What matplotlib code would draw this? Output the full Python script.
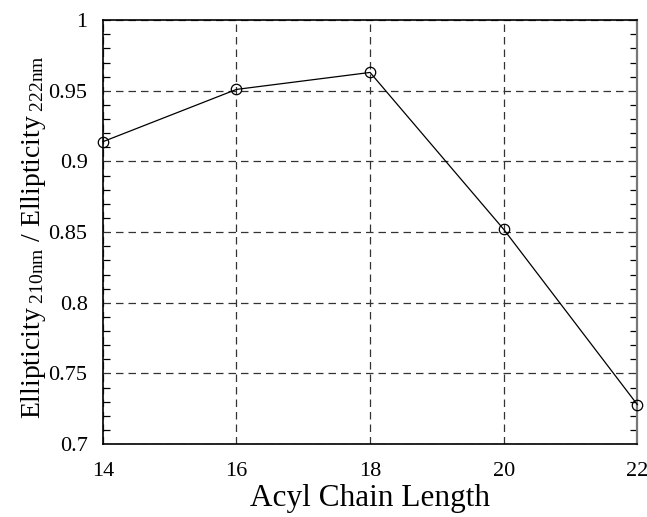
import matplotlib
matplotlib.use('Agg')
import matplotlib.pyplot as plt
from matplotlib.ticker import MultipleLocator

plt.rcParams['font.family'] = 'Liberation Serif'
plt.rcParams['mathtext.fontset'] = 'custom'
plt.rcParams['mathtext.rm'] = 'Liberation Serif'
plt.rcParams['mathtext.it'] = 'Liberation Serif:italic'

# data
chain_length = [14, 16, 18, 20, 22]
ratio = [0.914, 0.951, 0.963, 0.852, 0.728]
x_ticks = [14, 16, 18, 20, 22]
y_ticks = [0.7, 0.75, 0.8, 0.85, 0.9, 0.95, 1.0]
y_tick_labels = ['0.7', '0.75', '0.8', '0.85', '0.9', '0.95', '1']

fig = plt.figure(figsize=(6.47, 5.17), dpi=100)
ax = fig.add_axes([0.159, 0.141, 0.826, 0.820])

ax.plot(chain_length, ratio, color='black', linewidth=0.9, marker='o',
        markersize=7.5, markerfacecolor='none', markeredgecolor='black',
        markeredgewidth=0.9, clip_on=False, zorder=5)

ax.set_xlim(14, 22)
ax.set_ylim(0.7, 1.0)
ax.set_xticks(x_ticks)
ax.set_yticks(y_ticks)
ax.set_yticklabels(y_tick_labels)
ax.yaxis.set_minor_locator(MultipleLocator(0.01))

ax.grid(True, which='major', linestyle=(0, (6, 4)), color='#333333', linewidth=0.9)
ax.tick_params(which='both', direction='in', top=False, right=True, labelsize=16)
ax.tick_params(which='major', length=0)
ax.tick_params(which='minor', length=5, width=0.9)
ax.tick_params(axis='x', which='minor', top=False, bottom=False)
ax.tick_params(axis='x', pad=13)
ax.tick_params(axis='y', pad=11)

for s in ax.spines.values():
    s.set_linewidth(1.2)
ax.spines['right'].set_color('#777777')
ax.spines['right'].set_linewidth(1.6)

ax.set_xlabel('Acyl Chain Length', fontsize=22.5, labelpad=2)
ax.set_ylabel(r'Ellipticity$_{\ \mathrm{210nm}}$ / Ellipticity$_{\ \mathrm{222nm}}$',
              fontsize=20)
ax.yaxis.set_label_coords(-0.103, 0.488)

fig.savefig('out.png', dpi=100)
